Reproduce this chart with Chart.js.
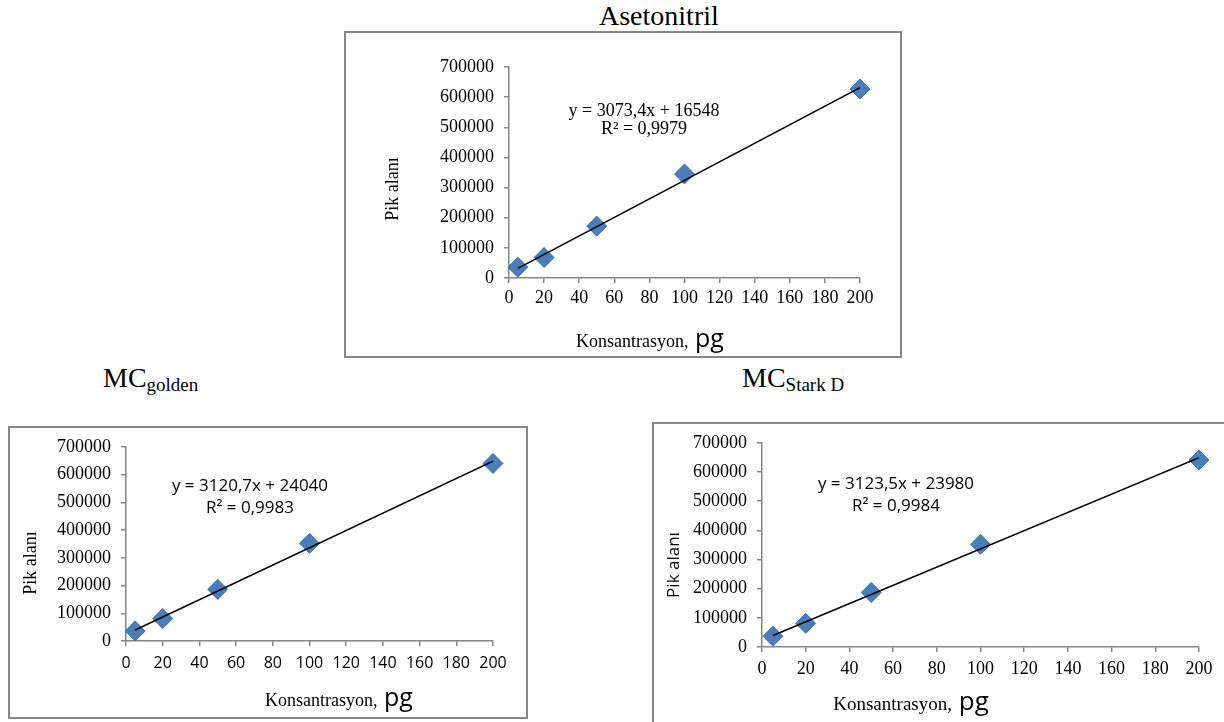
<!DOCTYPE html>
<html lang="tr">
<head>
<meta charset="UTF-8">
<title>Kalibrasyon eğrileri</title>
<script src="https://cdn.jsdelivr.net/npm/chart.js"></script>
<style>
    body { margin: 0; width: 1224px; height: 722px; overflow: hidden; background: #fff; position: relative; font-family: "Liberation Serif", "Times New Roman", serif; }
    .title { position: absolute; font-size: 28px; line-height: 28px; color: #000; white-space: nowrap; }
    .title sub { font-size: 19px; vertical-align: -4px; line-height: 0; }
    .wrap { position: absolute; }
    .frame { position: absolute; border: 2px solid #878787; box-sizing: border-box; pointer-events: none; }
</style>
</head>
<body>
    <div class="title" style="left:599px; top:2px;">Asetonitril</div>
    <div class="title" style="left:103px; top:364px;">MC<sub>golden</sub></div>
    <div class="title" style="left:742px; top:364px;">MC<sub>Stark D</sub></div>

    <div class="wrap" style="left:344px; top:31px;"><canvas id="chartAce" width="558" height="327"></canvas></div>
    <div class="frame" style="left:344px; top:31px; width:558px; height:327px;"></div>

    <div class="wrap" style="left:8px; top:426px;"><canvas id="chartGolden" width="520" height="293"></canvas></div>
    <div class="frame" style="left:8px; top:426px; width:520px; height:293px;"></div>

    <div class="wrap" style="left:652px; top:422px;"><canvas id="chartStark" width="600" height="310"></canvas></div>
    <div class="frame" style="left:652px; top:422px; width:600px; height:310px;"></div>

<script>
    // concentrations (pg) and peak areas
    const concentrations = [5, 20, 50, 100, 200];
    const aceArea = [36000, 68000, 172000, 345000, 627000];
    const goldenArea = [36000, 81000, 186000, 352000, 640000];
    const starkArea = [37000, 81000, 187000, 352000, 641000];

    // trendline equations printed on the charts
    const slopes = [3073.4, 3120.7, 3123.5];
    const intercepts = [16548, 24040, 23980];
    const eqLabels = ["y = 3073,4x + 16548", "y = 3120,7x + 24040", "y = 3123,5x + 23980"];
    const r2Labels = ["R² = 0,9979", "R² = 0,9983", "R² = 0,9984"];

    // axes
    const xMin = 0, xMax = 200, xStep = 20;
    const yMin = 0, yMax = 700000, yStep = 100000;
    const yTitle = "Pik alanı";
    const xTitleMain = "Konsantrasyon,";
    const xTitleUnit = " pg";

    const SERIF = "'Liberation Serif', 'Times New Roman', serif";
    const SANS = "'Open Sans', 'Liberation Sans', sans-serif";

    // draws free text (equation, axis titles) on the canvas
    function textPlugin(items) {
        return {
            id: 'freeText',
            afterDraw(chart) {
                const ctx = chart.ctx;
                items.forEach(function (it) {
                    ctx.save();
                    ctx.fillStyle = '#000';
                    ctx.textAlign = 'left';
                    ctx.textBaseline = it.baseline || 'middle';
                    ctx.translate(it.x, it.y);
                    if (it.rotate) ctx.rotate(it.rotate);
                    const widths = [];
                    let total = 0;
                    it.parts.forEach(function (p) {
                        ctx.font = p.font;
                        const w = ctx.measureText(p.text).width;
                        widths.push(w);
                        total += w;
                    });
                    let x = -total / 2;
                    it.parts.forEach(function (p, i) {
                        ctx.font = p.font;
                        ctx.fillText(p.text, x, 0);
                        x += widths[i];
                    });
                    ctx.restore();
                });
            }
        };
    }

    function makeChart(id, idx, area, cfg) {
        const points = concentrations.map((c, i) => ({ x: c, y: area[i] }));
        const x0 = concentrations[0], x1 = concentrations[concentrations.length - 1];
        const trend = [
            { x: x0, y: slopes[idx] * x0 + intercepts[idx] },
            { x: x1, y: slopes[idx] * x1 + intercepts[idx] }
        ];

        const items = [
            { x: cfg.eq[0], y: cfg.eq[1], parts: [{ text: eqLabels[idx], font: cfg.eqFont }] },
            { x: cfg.eq[0], y: cfg.eq[1] + cfg.eqGap, parts: [{ text: r2Labels[idx], font: cfg.eqFont }] },
            { x: cfg.yt[0], y: cfg.yt[1], rotate: -Math.PI / 2, parts: [{ text: yTitle, font: cfg.ytFont }] },
            { x: cfg.xt[0], y: cfg.xt[1], baseline: 'alphabetic', parts: [
                { text: xTitleMain, font: cfg.xtSize[0] + 'px ' + SERIF },
                { text: xTitleUnit, font: cfg.xtSize[1] + 'px ' + SANS }
            ] }
        ];

        new Chart(document.getElementById(id), {
            type: 'scatter',
            data: {
                datasets: [
                    {
                        label: 'Doğrusal',
                        data: trend,
                        showLine: true,
                        borderColor: '#000',
                        borderWidth: 1.5,
                        pointRadius: 0,
                        order: 0
                    },
                    {
                        label: 'Pik alanı',
                        data: points,
                        pointStyle: 'rectRot',
                        pointRadius: 10,
                        backgroundColor: '#4a7ebb',
                        borderColor: '#3f70ac',
                        borderWidth: 1,
                        clip: false,
                        order: 1
                    }
                ]
            },
            options: {
                responsive: false,
                animation: false,
                layout: { padding: { top: cfg.pad[0], right: cfg.pad[1], bottom: 0, left: 0 } },
                plugins: { legend: { display: false }, tooltip: { enabled: false } },
                scales: {
                    x: {
                        type: 'linear',
                        min: xMin,
                        max: xMax,
                        ticks: { stepSize: xStep, font: cfg.xTickFont, color: '#000', padding: cfg.xPad, maxRotation: 0, autoSkip: false },
                        grid: { drawOnChartArea: false, drawTicks: true, tickLength: 5, color: '#868686', lineWidth: 1.5 },
                        border: { color: '#868686', width: 1.5 },
                        afterFit(s) { s.height = cfg.xh; }
                    },
                    y: {
                        min: yMin,
                        max: yMax,
                        ticks: { stepSize: yStep, font: { family: SERIF, size: 18 }, color: '#000', padding: 10, callback: v => String(v) },
                        grid: { drawOnChartArea: false, drawTicks: true, tickLength: 5, color: '#868686', lineWidth: 1.5 },
                        border: { color: '#868686', width: 1.5 },
                        afterFit(s) { s.width = cfg.yw; }
                    }
                }
            },
            plugins: [textPlugin(items)]
        });
    }

    makeChart('chartAce', 0, aceArea, {
        pad: [36, 42], yw: 165, xh: 80, xPad: 4,
        xTickFont: { family: SERIF, size: 18 },
        eq: [300, 80], eqGap: 18, eqFont: '18px ' + SERIF,
        yt: [49, 158], ytFont: '18px ' + SERIF,
        xt: [306, 316], xtSize: [18, 25]
    });

    makeChart('chartGolden', 1, goldenArea, {
        pad: [14, 35], yw: 118, xh: 78, xPad: 8,
        xTickFont: { family: SANS, size: 16 },
        eq: [242, 60], eqGap: 22, eqFont: '17px ' + SANS,
        yt: [23, 137], ytFont: '18px ' + SERIF,
        xt: [331, 280], xtSize: [18, 25]
    });

    makeChart('chartStark', 2, starkArea, {
        pad: [16, 53], yw: 110, xh: 85, xPad: 6,
        xTickFont: { family: SERIF, size: 18 },
        eq: [244, 62], eqGap: 22, eqFont: '17px ' + SANS,
        yt: [22, 143], ytFont: '17px ' + SANS,
        xt: [259, 288], xtSize: [19, 26]
    });
</script>
</body>
</html>
